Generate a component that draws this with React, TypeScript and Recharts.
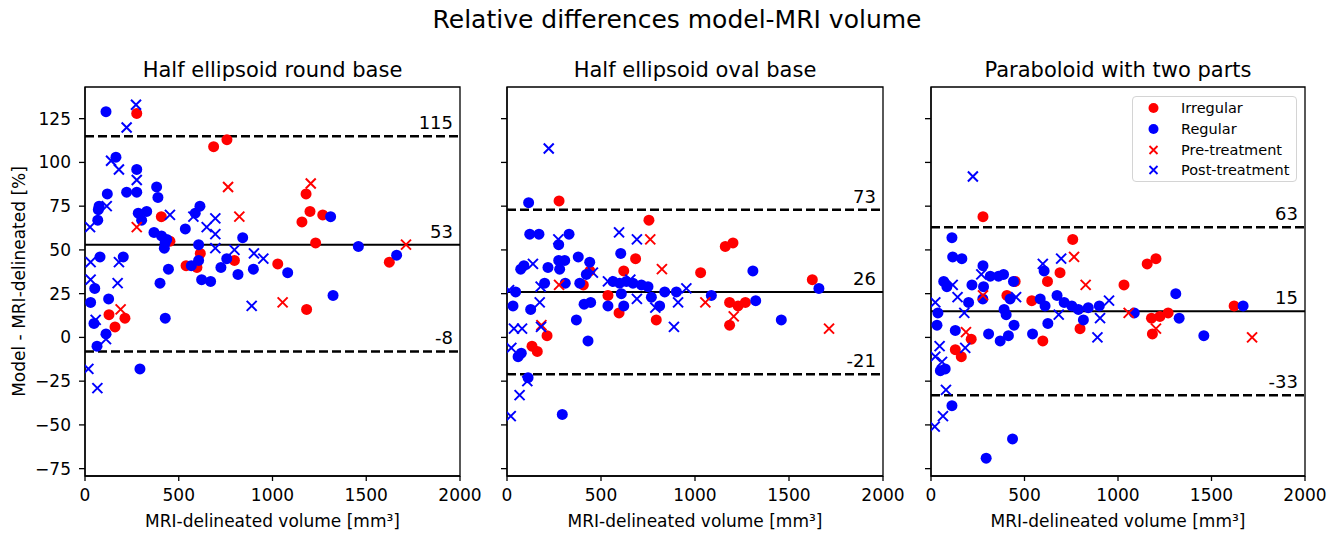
import React from 'react';
import { ScatterChart, Scatter, XAxis, YAxis, ReferenceLine, ReferenceArea, Legend } from 'recharts';

type Pt = { x: number; y: number };
const pts = (a: number[][]): Pt[] => a.map(([x, y]) => ({ x, y }));

// ---------- tick values & limits ----------
const X_TICKS = [0, 500, 1000, 1500, 2000];
const Y_TICKS = [-75, -50, -25, 0, 25, 50, 75, 100, 125];
const X_DOMAIN = [0, 2000];
const Y_DOMAIN = [-79.2, 143.1];

const MAIN_TITLE = 'Relative differences model-MRI volume';
const PANEL_TITLES = ['Half ellipsoid round base', 'Half ellipsoid oval base', 'Paraboloid with two parts'];
const X_LABEL = 'MRI-delineated volume [mm\u00B3]';
const Y_LABEL = 'Model - MRI-delineated [%]';

// [upper LoA, mean, lower LoA] per panel
const P1_LIMITS = [115, 53, -8];
const P2_LIMITS = [73, 26, -21];
const P3_LIMITS = [63, 15, -33];

// ---------- Panel 1: Half ellipsoid round base ----------
const P1_IRREGULAR = pts([[276,128],[686,109],[757,113],[407,69],[1179,82],[1200,72],[1268,70],[1157,66],[1230,54],[453,55],[615,48],[539,41],[597,40],[797,44],[1028,42],[1623,43],[1182,16],[128,13],[213,11],[160,6]]);
const P1_REGULAR = pts([[112,129],[165,103],[276,96],[222,83],[276,83],[119,82],[382,86],[389,80],[75,75],[71,73],[68,67],[284,71],[302,67],[329,72],[613,75],[588,71],[1310,69],[368,60],[408,58],[436,56],[427,54],[423,51],[535,62],[841,57],[606,53],[1458,52],[1662,47],[80,46],[204,46],[445,39],[400,31],[567,41],[606,44],[725,40],[756,45],[622,33],[670,32],[816,36],[898,39],[1081,37],[52,28],[30,20],[126,22],[1323,24],[428,11],[48,8],[112,2],[64,-5],[293,-18]]);
const P1_PRE = pts([[276,63],[763,86],[823,69],[1204,88],[1712,53],[1054,20],[190,16]]);
const P1_POST = pts([[272,133],[222,120],[139,101],[181,96],[276,90],[116,75],[27,63],[453,70],[578,69],[695,68],[649,63],[695,59],[695,51],[797,50],[901,48],[951,45],[30,43],[181,43],[30,33],[174,31],[889,18],[57,10],[112,-1],[18,-18],[66,-29]]);

// ---------- Panel 2: Half ellipsoid oval base ----------
const P2_IRREGULAR = pts([[277,78],[755,67],[684,45],[1161,52],[1202,54],[621,38],[1030,37],[1624,33],[441,38],[406,30],[537,24],[596,14],[794,10],[1184,20],[1229,18],[1268,20],[1184,7],[213,1],[133,-5],[161,-8]]);
const P2_REGULAR = pts([[115,77],[121,59],[170,59],[330,59],[275,53],[605,48],[379,46],[440,43],[275,44],[307,44],[280,39],[218,40],[73,39],[90,41],[1308,38],[422,36],[200,31],[310,31],[387,31],[564,32],[599,31],[635,32],[670,31],[715,30],[750,29],[839,26],[901,26],[1659,28],[1087,24],[46,26],[608,25],[768,23],[32,18],[126,16],[410,19],[445,20],[537,18],[621,18],[812,18],[1323,21],[369,10],[1459,10],[431,-2],[59,-11],[76,-9],[112,-23],[294,-44]]);
const P2_PRE = pts([[762,56],[824,39],[277,30],[1055,20],[1206,12],[1713,5],[183,7]]);
const P2_POST = pts([[222,108],[596,60],[691,56],[273,56],[138,42],[457,37],[537,32],[656,33],[954,28],[11,27],[179,29],[174,20],[691,22],[789,17],[910,20],[888,6],[37,5],[80,5],[181,6],[23,-6],[108,-25],[67,-33],[20,-45]]);

// ---------- Panel 3: Paraboloid with two parts ----------
const P3_IRREGULAR = pts([[278,69],[758,56],[1156,42],[1203,45],[690,37],[623,32],[1032,30],[406,24],[450,32],[539,21],[1621,18],[1179,11],[1224,12],[1268,14],[1184,2],[797,5],[598,-2],[215,-1],[130,-7],[162,-11]]);
const P3_REGULAR = pts([[112,57],[116,46],[165,45],[278,41],[605,38],[1309,25],[68,32],[85,29],[219,30],[317,35],[361,35],[388,36],[441,32],[281,29],[277,22],[201,20],[423,22],[391,16],[402,13],[584,22],[610,18],[674,24],[712,20],[753,18],[788,16],[841,17],[900,18],[1669,18],[1087,14],[1327,11],[815,10],[625,8],[37,14],[32,7],[130,4],[444,7],[308,2],[370,-2],[414,1],[543,2],[1459,1],[50,-19],[76,-18],[112,-39],[436,-58],[295,-69]]);
const P3_PRE = pts([[765,46],[827,30],[278,24],[1057,14],[1203,5],[1717,0],[187,3]]);
const P3_POST = pts([[224,92],[598,42],[696,45],[116,30],[269,36],[142,23],[455,23],[952,21],[23,20],[178,14],[683,13],[904,11],[890,0],[46,-5],[23,-11],[59,-14],[183,-6],[80,-30],[64,-45],[20,-51]]);

// ---------- series styling ----------
const RED = '#ff0000';
const BLUE = '#0000ff';
const SERIES = [
  { name: 'Irregular', color: RED, kind: 'circle' },
  { name: 'Regular', color: BLUE, kind: 'circle' },
  { name: 'Pre-treatment', color: RED, kind: 'cross' },
  { name: 'Post-treatment', color: BLUE, kind: 'cross' },
];

const FONT = '"DejaVu Sans", sans-serif';

const circleShape = (color: string) => (p: any) => (
  <circle cx={p.cx} cy={p.cy} r={5.5} fill={color} />
);
const crossShape = (color: string) => (p: any) => {
  const s = 5;
  const { cx, cy } = p;
  return (
    <path
      d={`M${cx - s},${cy - s}L${cx + s},${cy + s}M${cx - s},${cy + s}L${cx + s},${cy - s}`}
      stroke={color}
      strokeWidth={2}
      fill="none"
    />
  );
};

const fmtY = (v: number) => (v < 0 ? '\u2212' + Math.abs(v) : String(v));

const LegendContent = () => (
  <div
    style={{
      width: 165,
      height: 86,
      boxSizing: 'border-box',
      border: '1px solid #d4d4d4',
      borderRadius: 4,
      background: 'rgba(255,255,255,0.8)',
      paddingTop: 1,
      fontFamily: FONT,
      fontSize: 14.5,
      color: '#000',
    }}
  >
    {SERIES.map((s) => (
      <div key={s.name} style={{ height: 20.7, display: 'flex', alignItems: 'center' }}>
        <svg width={48} height={20} style={{ flex: 'none' }}>
          {s.kind === 'circle' ? (
            <circle cx={20.5} cy={10} r={5} fill={s.color} />
          ) : (
            <path d="M16.5,6L24.5,14M16.5,14L24.5,6" stroke={s.color} strokeWidth={1.8} fill="none" />
          )}
        </svg>
        <span style={{ whiteSpace: 'nowrap' }}>{s.name}</span>
      </div>
    ))}
  </div>
);

type PanelProps = {
  left: number;
  width: number;
  yAxisWidth: number;
  marginRight: number;
  first: boolean;
  limits: number[];
  series: Pt[][];
  legend?: boolean;
};

const Panel = ({ left, width, yAxisWidth, marginRight, first, limits, series, legend }: PanelProps) => {
  const [upper, mean, lower] = limits;
  return (
    <div style={{ position: 'absolute', left, top: 0 }}>
      <ScatterChart
        width={width}
        height={533}
        margin={{ top: 87, right: marginRight, bottom: 0, left: 0 }}
      >
        <XAxis
          type="number"
          dataKey="x"
          domain={X_DOMAIN}
          ticks={X_TICKS}
          allowDataOverflow
          height={57}
          stroke="#000"
          strokeWidth={1.3}
          tickSize={5}
          tickMargin={8}
          tick={{ fontSize: 17, fill: '#000' }}
          label={{ value: X_LABEL, position: 'insideBottom', offset: 6, fontSize: 17, fill: '#000' }}
        />
        <YAxis
          type="number"
          dataKey="y"
          domain={Y_DOMAIN}
          ticks={Y_TICKS}
          allowDataOverflow
          width={yAxisWidth}
          stroke="#000"
          strokeWidth={1.3}
          tickSize={6}
          tickMargin={8}
          tick={{ fontSize: 17, fill: '#000' }}
          tickFormatter={first ? fmtY : () => ''}
          label={
            first
              ? {
                  value: Y_LABEL,
                  angle: -90,
                  position: 'insideLeft',
                  offset: 19,
                  fontSize: 17,
                  fill: '#000',
                  style: { textAnchor: 'middle' },
                }
              : undefined
          }
        />
        <ReferenceArea
          x1={X_DOMAIN[0]}
          x2={X_DOMAIN[1]}
          y1={Y_DOMAIN[0]}
          y2={Y_DOMAIN[1]}
          fill="none"
          fillOpacity={0}
          stroke="#000"
          strokeWidth={1.3}
          strokeOpacity={1}
        />
        <ReferenceLine
          y={upper}
          stroke="#000"
          strokeWidth={2.5}
          strokeDasharray="9 4"
          label={{ value: String(upper), position: 'insideBottomRight', offset: 7, fontSize: 18, fill: '#000' }}
        />
        <ReferenceLine
          y={mean}
          stroke="#000"
          strokeWidth={2}
          label={{ value: String(mean), position: 'insideBottomRight', offset: 7, fontSize: 18, fill: '#000' }}
        />
        <ReferenceLine
          y={lower}
          stroke="#000"
          strokeWidth={2.5}
          strokeDasharray="9 4"
          label={{ value: String(lower), position: 'insideBottomRight', offset: 7, fontSize: 18, fill: '#000' }}
        />
        {SERIES.map((s, i) => (
          <Scatter
            key={s.name}
            name={s.name}
            data={series[i]}
            fill={s.color}
            isAnimationActive={false}
            shape={s.kind === 'circle' ? circleShape(s.color) : crossShape(s.color)}
          />
        ))}
        {legend ? (
          <Legend
            layout="vertical"
            align="center"
            verticalAlign="middle"
            content={() => <LegendContent />}
            wrapperStyle={{ left: 242, top: 96, width: 165, height: 86, right: 'auto', bottom: 'auto', margin: 0 }}
          />
        ) : null}
      </ScatterChart>
    </div>
  );
};

const titleStyle = (cx: number, top: number, size: number): React.CSSProperties => ({
  position: 'absolute',
  left: cx,
  top,
  transform: 'translateX(-50%)',
  fontFamily: FONT,
  fontSize: size,
  lineHeight: 1,
  whiteSpace: 'nowrap',
  color: '#000',
});

export default function App() {
  return (
    <div
      style={{
        position: 'fixed',
        left: 0,
        top: 0,
        width: 1341,
        height: 533,
        background: '#fff',
        fontFamily: FONT,
        overflow: 'hidden',
      }}
    >
      <div style={titleStyle(677, 7, 25)}>{MAIN_TITLE}</div>
      <div style={titleStyle(272.5, 60, 21)}>{PANEL_TITLES[0]}</div>
      <div style={titleStyle(695, 60, 21)}>{PANEL_TITLES[1]}</div>
      <div style={titleStyle(1118, 60, 21)}>{PANEL_TITLES[2]}</div>
      <Panel
        left={0}
        width={495}
        yAxisWidth={85}
        marginRight={35}
        first
        limits={P1_LIMITS}
        series={[P1_IRREGULAR, P1_REGULAR, P1_PRE, P1_POST]}
      />
      <Panel
        left={470}
        width={445}
        yAxisWidth={37}
        marginRight={32}
        first={false}
        limits={P2_LIMITS}
        series={[P2_IRREGULAR, P2_REGULAR, P2_PRE, P2_POST]}
      />
      <Panel
        left={890}
        width={451}
        yAxisWidth={41}
        marginRight={36}
        first={false}
        limits={P3_LIMITS}
        series={[P3_IRREGULAR, P3_REGULAR, P3_PRE, P3_POST]}
        legend
      />
    </div>
  );
}
